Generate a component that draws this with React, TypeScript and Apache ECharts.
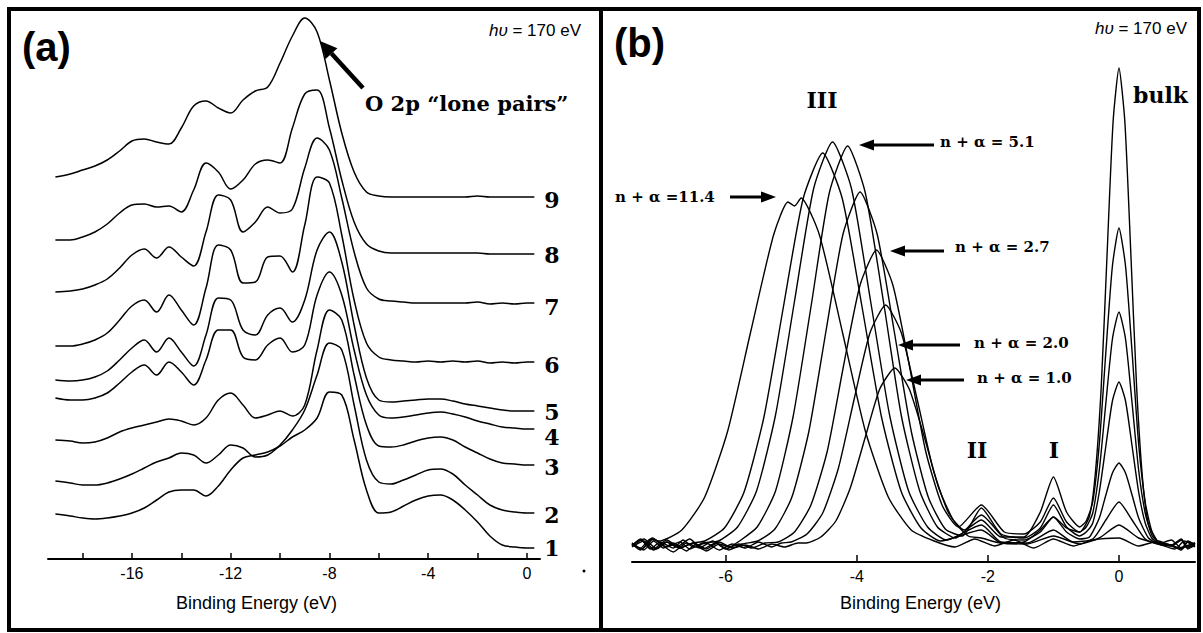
import React, { useEffect, useRef } from "react";
import * as echarts from "echarts";

// ---------- Panel (a): valence-band spectra, waterfall ----------
const energyA = [-19.1, -18.5, -18, -17.5, -17, -16.5, -16, -15.5, -15, -14.5, -14, -13.5, -13, -12.5, -12, -11.5, -11, -10.5, -10, -9.5, -9, -8.5, -8, -7.5, -7, -6.5, -6, -5.5, -5, -4.5, -4, -3.5, -3, -2.5, -2, -1.5, -1, -0.5, 0, 0.3];

const trace1 = [3.4, 3.2, 3.0, 2.9, 3.0, 3.2, 3.5, 4.0, 4.8, 5.6, 5.8, 5.8, 5.2, 6.2, 7.8, 9.0, 9.3, 9.6, 10.2, 11.1, 11.8, 13.0, 15.6, 15.3, 10.8, 5.8, 3.5, 3.6, 4.2, 4.8, 5.2, 5.3, 4.8, 3.8, 2.6, 1.2, 0.3, 0.1, 0, 0];
const trace2 = [3.2, 3.0, 2.8, 2.8, 3.0, 3.4, 3.9, 4.5, 5.1, 5.5, 6.0, 5.8, 5.0, 5.8, 6.8, 6.5, 5.6, 5.8, 6.8, 8.3, 10.3, 13.8, 17.0, 16.3, 10.8, 5.3, 3.1, 2.9, 3.3, 3.8, 4.3, 4.4, 3.9, 2.8, 1.8, 0.8, 0.3, 0.1, 0, 0];
const trace3 = [2.5, 2.4, 2.2, 2.3, 2.7, 3.3, 3.7, 4.0, 4.3, 4.6, 4.4, 4.0, 4.7, 6.5, 7.2, 6.0, 4.7, 5.0, 5.4, 4.9, 6.0, 11.5, 15.5, 14.5, 9.0, 4.0, 1.9, 1.8, 2.0, 2.4, 2.7, 2.8, 2.5, 1.8, 1.2, 0.6, 0.2, 0.1, 0, 0];
const trace4 = [3.1, 2.9, 2.9, 3.1, 3.6, 4.6, 5.7, 6.4, 5.4, 6.7, 5.7, 4.4, 6.9, 9.9, 9.9, 7.2, 6.9, 8.4, 9.1, 7.7, 8.4, 13.4, 15.7, 13.4, 7.9, 3.4, 1.4, 1.1, 1.2, 1.4, 1.6, 1.7, 1.5, 1.2, 0.8, 0.5, 0.2, 0.1, 0, 0];
const trace5 = [3.1, 3.0, 3.1, 3.4, 4.0, 5.1, 6.3, 7.1, 5.9, 7.3, 5.9, 4.5, 7.6, 11.3, 11.1, 8.1, 7.6, 9.6, 10.3, 8.9, 11.1, 16.1, 17.9, 14.9, 8.6, 3.3, 1.1, 0.9, 1.0, 1.1, 1.2, 1.2, 1.0, 0.7, 0.5, 0.3, 0.1, 0, 0, 0];
const trace6 = [1.6, 1.6, 1.8, 2.2, 2.9, 4.2, 5.6, 6.2, 5.0, 6.7, 5.2, 3.7, 7.4, 11.7, 11.2, 7.9, 8.0, 10.5, 10.6, 9.0, 13.7, 18.5, 17.9, 12.7, 6.2, 1.9, 0.5, 0.2, 0.1, 0, 0.1, 0, 0.1, 0, 0.1, -0.1, 0, -0.1, 0, 0];
const trace7 = [1.1, 1.2, 1.4, 1.8, 2.4, 3.5, 4.8, 5.4, 4.5, 5.6, 4.6, 3.7, 7.1, 10.8, 10.3, 7.1, 8.1, 9.6, 9.0, 9.4, 13.5, 16.5, 15.3, 10.5, 5.1, 1.5, 0.4, 0.2, 0.1, 0, 0, 0, 0, 0, 0.1, -0.1, 0, -0.1, 0, 0];
const trace8 = [1.3, 1.3, 1.6, 2.1, 2.9, 4.0, 4.8, 4.9, 4.6, 4.7, 4.1, 6.3, 9.0, 8.1, 6.4, 7.3, 8.9, 9.3, 9.0, 12.5, 15.9, 16.3, 12.5, 7.3, 3.1, 0.9, 0.2, 0, 0, 0, 0, 0, 0, 0, 0, -0.1, -0.1, -0.1, -0.1, -0.1];
const trace9 = [2.0, 2.3, 2.7, 3.1, 3.7, 4.6, 5.6, 5.8, 5.5, 5.3, 6.9, 9.1, 9.6, 8.9, 8.4, 9.7, 10.6, 11.0, 13.4, 16.1, 17.9, 16.5, 11.7, 6.4, 2.5, 0.5, 0.1, 0, 0, 0, 0, 0, 0, 0, 0.1, 0, 0, 0, 0, 0];
const tracesA = [trace1, trace2, trace3, trace4, trace5, trace6, trace7, trace8, trace9];
const traceNamesA = ["1", "2", "3", "4", "5", "6", "7", "8", "9"];
const offsetsA = [1.1, 4.6, 9.4, 13.0, 14.8, 19.7, 25.6, 30.6, 36.2];
const ticksA = [-18, -16, -14, -12, -10, -8, -6, -4, -2, 0];
const labelsA = [-16, -12, -8, -4, 0];

// ---------- Panel (b): spectra for increasing coverage n + alpha ----------
const specB1 = [[-7.43, 1.8], [-7.25, 1.2], [-7.1, 2.1], [-6.95, 1.4], [-6.8, 1.9], [-6.6, 1.1], [-6.45, 1.8], [-6.3, 1.3], [-6.1, 2.0], [-5.9, 1.4], [-5.7, 1.7], [-5.5, 1.3], [-5.3, 1.8], [-5.1, 1.5], [-4.9, 1.9], [-4.77, 1.9], [-4.55, 2.5], [-4.32, 4.1], [-4.1, 7.4], [-3.87, 12.5], [-3.65, 17.3], [-3.42, 19.4], [-3.2, 17.3], [-2.97, 12.5], [-2.75, 7.4], [-2.52, 4.1], [-2.3, 2.6], [-2.1, 2.4], [-1.8, 1.9], [-1.45, 2.0], [-1.2, 3.2], [-1.0, 4.5], [-0.8, 3.4], [-0.6, 3.0], [-0.45, 4.6], [-0.36, 8.9], [-0.27, 17.6], [-0.18, 31], [-0.09, 44], [0, 49.4], [0.09, 44], [0.18, 31], [0.27, 17.4], [0.36, 8.3], [0.45, 3.8], [0.6, 2.0], [0.8, 1.6], [0.95, 2.2], [1.05, 1.4], [1.16, 1.9]];
const specB2 = [[-7.43, 1.6], [-7.3, 2.3], [-7.15, 1.3], [-7.0, 2.0], [-6.8, 1.4], [-6.65, 2.2], [-6.5, 1.5], [-6.3, 1.9], [-6.1, 1.2], [-5.9, 1.8], [-5.7, 1.4], [-5.5, 2.0], [-5.3, 1.5], [-5.15, 1.9], [-5.0, 2.0], [-4.76, 2.8], [-4.52, 4.9], [-4.28, 9.4], [-4.04, 16.3], [-3.8, 22.9], [-3.56, 25.7], [-3.32, 22.9], [-3.08, 16.3], [-2.84, 9.4], [-2.6, 4.9], [-2.36, 3.2], [-2.1, 4.2], [-1.8, 2.5], [-1.45, 2.5], [-1.2, 5.0], [-1.0, 8.5], [-0.8, 5.0], [-0.6, 3.5], [-0.5, 4.1], [-0.4, 6.0], [-0.3, 11.8], [-0.2, 21.0], [-0.1, 29.6], [0, 33.4], [0.1, 29.6], [0.2, 21.0], [0.3, 11.8], [0.4, 6.0], [0.5, 3.1], [0.6, 2.0], [0.8, 1.7], [0.95, 1.3], [1.05, 2.1], [1.16, 1.7]];
const specB3 = [[-7.43, 1.9], [-7.28, 1.3], [-7.12, 2.4], [-6.95, 1.6], [-6.8, 1.0], [-6.6, 1.9], [-6.4, 1.4], [-6.2, 2.1], [-6.0, 1.3], [-5.8, 1.8], [-5.6, 1.4], [-5.4, 1.9], [-5.2, 2.0], [-4.95, 3.0], [-4.7, 5.7], [-4.45, 11.1], [-4.2, 19.7], [-3.95, 27.7], [-3.7, 31.2], [-3.45, 27.7], [-3.2, 19.7], [-2.95, 11.1], [-2.7, 5.7], [-2.45, 3.5], [-2.1, 5.7], [-1.75, 3.0], [-1.45, 2.8], [-1.2, 4.0], [-1.0, 6.4], [-0.8, 4.0], [-0.6, 3.0], [-0.5, 3.5], [-0.4, 4.9], [-0.3, 9.2], [-0.2, 15.9], [-0.1, 22.3], [0, 25.0], [0.1, 22.3], [0.2, 15.9], [0.3, 9.2], [0.4, 4.9], [0.5, 2.7], [0.6, 2.0], [0.8, 1.7], [0.95, 2.3], [1.05, 1.5], [1.16, 1.6]];
const specB4 = [[-7.43, 1.7], [-7.3, 2.2], [-7.1, 1.2], [-6.9, 2.0], [-6.75, 1.5], [-6.55, 2.3], [-6.35, 1.3], [-6.15, 1.9], [-5.95, 1.2], [-5.75, 1.8], [-5.51, 2.1], [-5.25, 3.3], [-4.99, 6.5], [-4.73, 13.1], [-4.47, 23.1], [-4.21, 32.8], [-3.95, 37.0], [-3.69, 32.8], [-3.43, 23.1], [-3.17, 13.1], [-2.91, 6.5], [-2.65, 3.3], [-2.39, 2.6], [-2.1, 5.4], [-1.8, 2.8], [-1.45, 2.4], [-1.2, 3.4], [-1.0, 5.7], [-0.8, 3.5], [-0.6, 2.6], [-0.5, 3.0], [-0.4, 3.9], [-0.3, 7.0], [-0.2, 11.6], [-0.1, 16.1], [0, 18.0], [0.1, 16.1], [0.2, 11.6], [0.3, 7.0], [0.4, 3.9], [0.5, 2.4], [0.6, 1.9], [0.8, 1.7], [0.95, 1.2], [1.05, 2.0], [1.16, 1.8]];
const specB5 = [[-7.43, 1.5], [-7.25, 2.1], [-7.1, 1.3], [-6.9, 2.2], [-6.7, 1.4], [-6.5, 1.9], [-6.3, 1.1], [-6.1, 1.8], [-5.95, 1.5], [-5.79, 2.1], [-5.52, 3.5], [-5.24, 7.1], [-4.97, 14.6], [-4.69, 25.9], [-4.42, 36.9], [-4.14, 41.6], [-3.87, 36.9], [-3.59, 25.9], [-3.32, 14.6], [-3.04, 7.1], [-2.77, 3.5], [-2.49, 2.4], [-2.1, 4.7], [-1.75, 2.4], [-1.45, 2.2], [-1.2, 3.0], [-1.0, 4.5], [-0.8, 3.0], [-0.6, 2.3], [-0.45, 2.5], [-0.3, 4.4], [-0.2, 6.7], [-0.1, 8.9], [0, 9.9], [0.1, 8.9], [0.2, 6.7], [0.3, 4.4], [0.45, 2.4], [0.6, 1.8], [0.8, 1.6], [0.95, 2.2], [1.05, 1.3], [1.16, 1.7]];
const specB6 = [[-7.43, 1.8], [-7.3, 1.2], [-7.1, 2.3], [-6.9, 1.5], [-6.7, 2.0], [-6.55, 1.3], [-6.35, 1.9], [-6.11, 2.1], [-5.82, 3.5], [-5.53, 7.1], [-5.24, 14.7], [-4.95, 26.1], [-4.66, 37.3], [-4.37, 42.0], [-4.08, 37.3], [-3.79, 26.1], [-3.5, 14.7], [-3.21, 7.1], [-2.92, 3.5], [-2.63, 2.2], [-2.1, 3.7], [-1.8, 2.0], [-1.4, 1.9], [-1.0, 3.2], [-0.7, 2.0], [-0.4, 2.3], [-0.2, 4.2], [0, 6.0], [0.2, 4.2], [0.4, 2.3], [0.6, 1.8], [0.8, 2.2], [0.95, 1.4], [1.16, 1.9]];
const specB7 = [[-7.43, 1.6], [-7.25, 2.3], [-7.05, 1.3], [-6.9, 2.0], [-6.7, 1.4], [-6.5, 1.9], [-6.32, 2.1], [-6.02, 3.4], [-5.72, 7.0], [-5.42, 14.4], [-5.12, 25.5], [-4.82, 36.3], [-4.52, 40.9], [-4.22, 36.3], [-3.92, 25.5], [-3.62, 14.4], [-3.32, 7.0], [-3.02, 3.4], [-2.72, 2.1], [-2.1, 3.2], [-1.8, 1.9], [-1.4, 1.8], [-1.0, 2.6], [-0.6, 1.8], [-0.3, 2.4], [0, 3.7], [0.3, 2.4], [0.6, 1.8], [0.85, 1.3], [1.0, 2.1], [1.16, 1.5]];
const specB8 = [[-7.43, 1.9], [-7.3, 1.4], [-7.15, 2.3], [-7.02, 2.1], [-6.67, 3.2], [-6.32, 6.5], [-5.97, 13.1], [-5.62, 23.0], [-5.27, 32.7], [-5.05, 36.0], [-4.95, 35.6], [-4.85, 36.4], [-4.57, 32.7], [-4.22, 23.0], [-3.87, 13.1], [-3.52, 6.5], [-3.17, 3.2], [-2.82, 2.1], [-2.5, 1.5], [-2.2, 2.3], [-1.9, 1.6], [-1.6, 2.2], [-1.3, 1.4], [-1.0, 2.3], [-0.7, 1.6], [-0.4, 2.2], [0, 2.4], [0.3, 1.6], [0.6, 2.1], [0.9, 1.4], [1.16, 1.9]];
const spectraB = [specB1, specB2, specB3, specB4, specB5, specB6, specB7, specB8];
const ticksB = [-6, -4, -2, 0];

const SANS = "'Liberation Sans', Arial, Helvetica, sans-serif";
const SERIF = "'DejaVu Serif', 'Liberation Serif', serif";

function arrow(tail: number[], tip: number[], w: number, hl: number, hw: number) {
  const dx = tip[0] - tail[0];
  const dy = tip[1] - tail[1];
  const len = Math.sqrt(dx * dx + dy * dy);
  const ux = dx / len;
  const uy = dy / len;
  const bx = tip[0] - ux * hl;
  const by = tip[1] - uy * hl;
  const px = -uy;
  const py = ux;
  return [
    { type: "line", shape: { x1: tail[0], y1: tail[1], x2: bx, y2: by }, style: { stroke: "#000", lineWidth: w } },
    {
      type: "polygon",
      shape: { points: [[tip[0], tip[1]], [bx + px * hw, by + py * hw], [bx - px * hw, by - py * hw]] },
      style: { fill: "#000" },
    },
  ];
}

function txt(text: string, x: number, y: number, font: string, align = "left") {
  return { type: "text", x, y, style: { text, font, fill: "#000", align, verticalAlign: "middle" } };
}

export default function App() {
  const ref = useRef<HTMLDivElement>(null);
  useEffect(() => {
    if (!ref.current) return;
    const chart = echarts.init(ref.current, undefined, { renderer: "svg" });

    const seriesA = tracesA.map((t, k) => ({
      name: "a" + traceNamesA[k],
      type: "line",
      xAxisIndex: 0,
      yAxisIndex: 0,
      data: energyA.map((e, i) => [e, +(t[i] + offsetsA[k]).toFixed(2)]),
      showSymbol: false,
      smooth: 0.35,
      lineStyle: { color: "#000", width: 1.5 },
      silent: true,
    }));
    const seriesB = spectraB.map((s, k) => ({
      name: "b" + k,
      type: "line",
      xAxisIndex: 1,
      yAxisIndex: 1,
      data: s,
      showSymbol: false,
      smooth: 0.2,
      lineStyle: { color: "#000", width: 1.4 },
      silent: true,
    }));

    const axisCommon = {
      type: "value",
      axisLine: { show: true, onZero: false, lineStyle: { color: "#000", width: 2 } },
      splitLine: { show: false },
      axisLabel: { color: "#000", fontSize: 16, fontFamily: SANS, margin: 6 },
    };
    const hvStyle = (x: number, y: number) => ({
      type: "text", x, y,
      style: {
        text: "{i|hυ} = 170 eV", font: `17px ${SANS}`, fill: "#000", align: "right", verticalAlign: "middle",
        rich: { i: { fontStyle: "italic", fontSize: 17, fontFamily: SANS } },
      },
    });

    const graphics: any[] = [
      { type: "rect", shape: { x: 9, y: 9, width: 592, height: 621 }, style: { fill: "none", stroke: "#000", lineWidth: 4 } },
      { type: "rect", shape: { x: 601, y: 9, width: 598, height: 621 }, style: { fill: "none", stroke: "#000", lineWidth: 4 } },
      txt("(a)", 22, 47, `bold 40px ${SANS}`),
      txt("(b)", 614, 43, `bold 40px ${SANS}`),
      hvStyle(581, 30),
      hvStyle(1187, 28),
      txt("O 2p “lone pairs”", 365, 103, `bold 21px ${SERIF}`),
      ...arrow([363, 88], [320, 41], 4.5, 17, 8),
      txt("Binding Energy (eV)", 176, 603, `18px ${SANS}`),
      txt("Binding Energy (eV)", 840, 603, `18px ${SANS}`),
      txt("III", 822, 100, `bold 22px ${SERIF}`, "center"),
      txt("II", 977, 450, `bold 22px ${SERIF}`, "center"),
      txt("I", 1054, 450, `bold 22px ${SERIF}`, "center"),
      txt("bulk", 1133, 95, `bold 22px ${SERIF}`),
      txt("n + α = 5.1", 940, 142, `bold 15px ${SERIF}`),
      ...arrow([934, 145], [859, 145], 3, 15, 5.5),
      txt("n + α =11.4", 615, 197, `bold 15px ${SERIF}`),
      ...arrow([730, 197], [776, 197], 3, 15, 5.5),
      txt("n + α = 2.7", 955, 247, `bold 15px ${SERIF}`),
      ...arrow([944, 251], [890, 251], 3, 15, 5.5),
      txt("n + α = 2.0", 974, 343, `bold 15px ${SERIF}`),
      ...arrow([960, 345], [898, 345], 3, 15, 5.5),
      txt("n + α = 1.0", 977, 378, `bold 15px ${SERIF}`),
      ...arrow([964, 380], [906, 380], 3, 15, 5.5),
      { type: "circle", shape: { cx: 584, cy: 571, r: 1.5 }, style: { fill: "#000" } },
    ];
    const labelY = [548, 515, 467, 437, 412, 365, 307, 255, 200];
    traceNamesA.forEach((n, k) => graphics.push(txt(n, 552, labelY[k], `bold 22px ${SERIF}`, "center")));

    chart.setOption({
      animation: false,
      backgroundColor: "#fff",
      grid: [
        { left: 48, right: 1203 - 540, top: 8, bottom: 633 - 559 },
        { left: 632, right: 1203 - 1195, top: 8, bottom: 633 - 562 },
      ],
      xAxis: [
        {
          ...axisCommon,
          gridIndex: 0,
          min: -19.4,
          max: 0.53,
          axisTick: { show: true, inside: true, length: 6, customValues: ticksA, lineStyle: { color: "#000", width: 1.5 } },
          axisLabel: { ...axisCommon.axisLabel, customValues: labelsA },
        },
        {
          ...axisCommon,
          gridIndex: 1,
          min: -7.43,
          max: 1.16,
          axisTick: { show: true, inside: true, length: 7, customValues: ticksB, lineStyle: { color: "#000", width: 1.5 } },
          axisLabel: { ...axisCommon.axisLabel, customValues: ticksB },
        },
      ],
      yAxis: [
        { type: "value", gridIndex: 0, min: 0, max: 55.1, show: false },
        { type: "value", gridIndex: 1, min: 0, max: 55.4, show: false },
      ],
      series: [...seriesA, ...seriesB],
      graphic: graphics,
    });
    return () => chart.dispose();
  }, []);
  return <div ref={ref} style={{ position: "absolute", left: 0, top: 0, width: 1203, height: 633 }} />;
}
